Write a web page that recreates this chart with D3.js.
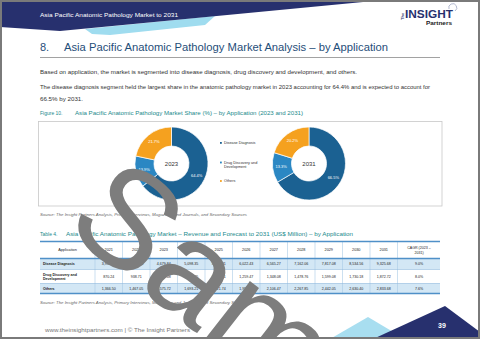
<!DOCTYPE html>
<html>
<head>
<meta charset="utf-8">
<script src="https://cdn.jsdelivr.net/npm/d3@7"></script>
<style>
  body { margin: 0; background: #fff; }
  svg text { font-family: "Liberation Sans", Arial, sans-serif; }
</style>
</head>
<body>
<svg id="page" width="480" height="339"></svg>
<script>
// chart data
var apps = ["Disease Diagnosis", "Drug Discovery and Development", "Others"];
var share2023 = [64.4, 13.9, 21.7];
var share2031 = [66.5, 13.3, 20.2];
var years = ["2021", "2022", "2023", "2024", "2025", "2026", "2027", "2028", "2029", "2030", "2031"];
var diseaseRev = [3952.26, 4293.78, 4679.84, 5098.35, 5528.31, 6022.43, 6565.27, 7162.06, 7817.08, 8534.56, 9325.68];
var drugRev = [870.24, 938.71, 1009.08, 1092.35, 1172.61, 1259.47, 1348.08, 1478.76, 1599.08, 1730.18, 1872.72];
var othersRev = [1366.50, 1467.05, 1575.72, 1693.21, 1821.74, 1957.83, 2106.47, 2267.85, 2442.05, 2630.40, 2833.68];
var cagr = ["9.0%", "8.0%", "7.6%"];

var navy = "#27306e", teal = "#1b8a8c";
var colors = ["#1b6192", "#2b87c3", "#f5a11f"];

var svg = d3.select("#page");

// fit a text line to a measured width
function fit(sel, w) {
  sel.attr("textLength", w).attr("lengthAdjust", "spacingAndGlyphs");
  return sel;
}

// ---- header band
svg.append("polygon").attr("points", "85,29 215,16 205,25 110,35 92,34").attr("fill", "#9fdcef");
svg.append("polygon").attr("points", "0,0 384,0 60,31 0,27").attr("fill", navy);
fit(svg.append("text").attr("x", 40).attr("y", 17).attr("fill", "#fff").style("font-size", "5.6px")
  .text("Asia Pacific Anatomic Pathology Market to 2031"), 138);

// logo
svg.append("text").attr("transform", "translate(404,20) rotate(-90)").attr("fill", navy)
  .style("font-size", "4px").style("font-weight", "bold").text("The");
fit(svg.append("text").attr("x", 405).attr("y", 18).attr("fill", navy).style("font-size", "10px")
  .style("font-weight", "bold").text("INSIGHT"), 48);
fit(svg.append("text").attr("x", 426).attr("y", 24.5).attr("fill", "#222").style("font-size", "5px")
  .style("font-weight", "bold").text("Partners"), 26);
svg.append("path").attr("d", "M449,9 A4,4 0 1 1 455,11").attr("fill", "none").attr("stroke", "#9fa7c4").attr("stroke-width", 0.8);

// ---- heading
svg.append("text").attr("x", 40).attr("y", 51).attr("fill", "#1f4e79").style("font-size", "11px").text("8.");
fit(svg.append("text").attr("x", 64).attr("y", 51).attr("fill", "#1f4e79").style("font-size", "11px")
  .text("Asia Pacific Anatomic Pathology Market Analysis – by Application"), 324);
svg.append("line").attr("x1", 40).attr("x2", 440).attr("y1", 57.5).attr("y2", 57.5).attr("stroke", "#8a8a8a").attr("stroke-width", 0.8);

var para = [
  {t: "Based on application, the market is segmented into disease diagnosis, drug discovery and development, and others.", y: 74, w: 317},
  {t: "The disease diagnosis segment held the largest share in the anatomic pathology market in 2023 accounting for 64.4% and is expected to account for", y: 88.5, w: 390},
  {t: "66.5% by 2031.", y: 101, w: 43}
];
para.forEach(function (p) {
  fit(svg.append("text").attr("x", 40).attr("y", p.y).attr("fill", "#333").style("font-size", "4.6px").text(p.t), p.w);
});

svg.append("text").attr("x", 40).attr("y", 114.5).attr("fill", teal).style("font-size", "5px").text("Figure 10.");
fit(svg.append("text").attr("x", 75).attr("y", 114.5).attr("fill", teal).style("font-size", "5px")
  .text("Asia Pacific Anatomic Pathology Market Share (%) – by Application (2023 and 2031)"), 228);

// ---- donuts
svg.append("rect").attr("x", 38.5).attr("y", 121.5).attr("width", 403.5).attr("height", 84.5)
  .attr("fill", "#fff").attr("stroke", "#c8c8c8").attr("stroke-width", 0.8);

var pie = d3.pie().sort(null).value(function (d) { return d; });
var arc = d3.arc().innerRadius(17.5).outerRadius(36.5);
var labelArc = d3.arc().innerRadius(28).outerRadius(28);

function donut(vals, cx, yr) {
  var g = svg.append("g").attr("transform", "translate(" + cx + ",163.5)");
  var slices = pie(vals);
  g.selectAll("path").data(slices).enter().append("path")
    .attr("d", arc).attr("fill", function (d, i) { return colors[i]; })
    .attr("stroke", "#fff").attr("stroke-width", 0.7);
  g.selectAll("text.lbl").data(slices).enter().append("text").attr("class", "lbl")
    .attr("transform", function (d) { return "translate(" + labelArc.centroid(d) + ")"; })
    .attr("text-anchor", "middle").attr("dy", "0.35em").attr("fill", "#fff")
    .style("font-size", "4px").text(function (d) { return d.data.toFixed(1) + "%"; });
  g.append("text").attr("text-anchor", "middle").attr("dy", "0.35em").attr("fill", "#333")
    .style("font-size", "6px").text(yr);
}
donut(share2023, 171.5, "2023");
donut(share2031, 309, "2031");

// legend
var legY = [[142.9], [162.5, 166.8], [181]];
var legLines = [["Disease Diagnosis"], ["Drug Discovery and", "Development"], ["Others"]];
legLines.forEach(function (lines, i) {
  svg.append("rect").attr("x", 220).attr("y", legY[i][0] - 0.9).attr("width", 1.8).attr("height", 1.8).attr("fill", colors[i]);
  lines.forEach(function (l, j) {
    svg.append("text").attr("x", 224).attr("y", legY[i][j]).attr("dy", "0.35em").attr("fill", "#333")
      .style("font-size", "3.8px").text(l);
  });
});

var srcText = "Source: The Insight Partners Analysis, Primary Interviews, Magazines and Journals, and Secondary Sources";
fit(svg.append("text").attr("x", 40).attr("y", 215.5).attr("fill", "#666").style("font-size", "3.6px")
  .style("font-style", "italic").text(srcText), 207);

// ---- table
svg.append("text").attr("x", 40).attr("y", 236).attr("fill", teal).style("font-size", "5px").text("Table 4.");
fit(svg.append("text").attr("x", 66).attr("y", 236).attr("fill", teal).style("font-size", "5px")
  .text("Asia Pacific Anatomic Pathology Market – Revenue and Forecast to 2031 (US$ Million) – by Application"), 287);

var x = d3.scaleBand().domain(years).range([95, 397.5]);
var rowsY = [258.5, 269.5, 283.5, 293.5];
var rows = [diseaseRev, drugRev, othersRev];
var fmt = d3.format(",.2f");
var tbl = svg.append("g");

// row backgrounds
tbl.selectAll("rect.bg").data(rows).enter().append("rect")
  .attr("x", 40).attr("width", 400)
  .attr("y", function (d, i) { return rowsY[i]; })
  .attr("height", function (d, i) { return rowsY[i + 1] - rowsY[i]; })
  .attr("fill", function (d, i) { return i === 1 ? "#fff" : "#d3e7f5"; });

// vertical separators
var vx = [95].concat(years.map(function (y) { return x(y) + x.bandwidth(); }));
tbl.selectAll("line.v").data(vx).enter().append("line")
  .attr("x1", function (d) { return d; }).attr("x2", function (d) { return d; })
  .attr("y1", 241.5).attr("y2", 293.5).attr("stroke", "#a9cbe6").attr("stroke-width", 0.6);

// horizontal lines
[241.5, 258.5, 293.5].forEach(function (y) {
  tbl.append("line").attr("x1", 40).attr("x2", 440).attr("y1", y).attr("y2", y)
    .attr("stroke", "#4f90c8").attr("stroke-width", 1.4);
});
[269.5, 283.5].forEach(function (y) {
  tbl.append("line").attr("x1", 40).attr("x2", 440).attr("y1", y).attr("y2", y)
    .attr("stroke", "#8fb8de").attr("stroke-width", 0.6);
});

// header
tbl.append("text").attr("x", 67.5).attr("y", 250).attr("dy", "0.35em").attr("text-anchor", "middle")
  .attr("fill", "#222").style("font-size", "3.8px").text("Application");
tbl.selectAll("text.yr").data(years).enter().append("text").attr("class", "yr")
  .attr("x", function (d) { return x(d) + x.bandwidth() / 2; }).attr("y", 250).attr("dy", "0.35em")
  .attr("text-anchor", "middle").attr("fill", "#222").style("font-size", "3.8px").text(function (d) { return d; });
tbl.append("text").attr("x", 419).attr("y", 248).attr("dy", "0.35em").attr("text-anchor", "middle")
  .attr("fill", "#222").style("font-size", "3.6px").text("CAGR (2023 –");
tbl.append("text").attr("x", 419).attr("y", 253).attr("dy", "0.35em").attr("text-anchor", "middle")
  .attr("fill", "#222").style("font-size", "3.6px").text("2031)");

// body
var labelLines = [["Disease Diagnosis"], ["Drug Discovery and", "Development"], ["Others"]];
rows.forEach(function (vals, i) {
  var cy = (rowsY[i] + rowsY[i + 1]) / 2;
  labelLines[i].forEach(function (l, j) {
    var n = labelLines[i].length;
    tbl.append("text").attr("x", 43).attr("y", cy + (j - (n - 1) / 2) * 4.4).attr("dy", "0.35em")
      .attr("fill", "#222").style("font-size", "3.6px").style("font-weight", "bold").text(l);
  });
  tbl.selectAll("text.v" + i).data(vals).enter().append("text").attr("class", "v" + i)
    .attr("x", function (d, k) { return x(years[k]) + x.bandwidth() / 2; }).attr("y", cy).attr("dy", "0.35em")
    .attr("text-anchor", "middle").attr("fill", "#222").style("font-size", "3.6px").text(function (d) { return fmt(d); });
  tbl.append("text").attr("x", 419).attr("y", cy).attr("dy", "0.35em").attr("text-anchor", "middle")
    .attr("fill", "#222").style("font-size", "3.6px").text(cagr[i]);
});

fit(svg.append("text").attr("x", 40).attr("y", 303.5).attr("fill", "#666").style("font-size", "3.6px")
  .style("font-style", "italic").text(srcText), 207);

// ---- footer
fit(svg.append("text").attr("x", 45).attr("y", 331.5).attr("fill", "#777").style("font-size", "4.6px")
  .text("www.theinsightpartners.com   |   © The Insight Partners"), 145);
svg.append("polygon").attr("points", "330,339 368,317 405,339").attr("fill", "#a8def0");
svg.append("polygon").attr("points", "373,339 445,306 480,332 480,339").attr("fill", navy);
svg.append("text").attr("x", 442).attr("y", 327.5).attr("text-anchor", "middle").attr("fill", "#fff")
  .style("font-size", "7px").style("font-weight", "bold").text("39");

// watermark (runs off the bottom edge as in the original page)
svg.append("text").attr("transform", "translate(62,228) rotate(38)").attr("fill", "#7d7d7d")
  .style("font-size", "140px").text("Sample");

// page frame
svg.append("rect").attr("x", 1).attr("y", 1).attr("width", 478).attr("height", 337)
  .attr("fill", "none").attr("stroke", "#7a7a7a").attr("stroke-width", 2);
</script>
</body>
</html>
